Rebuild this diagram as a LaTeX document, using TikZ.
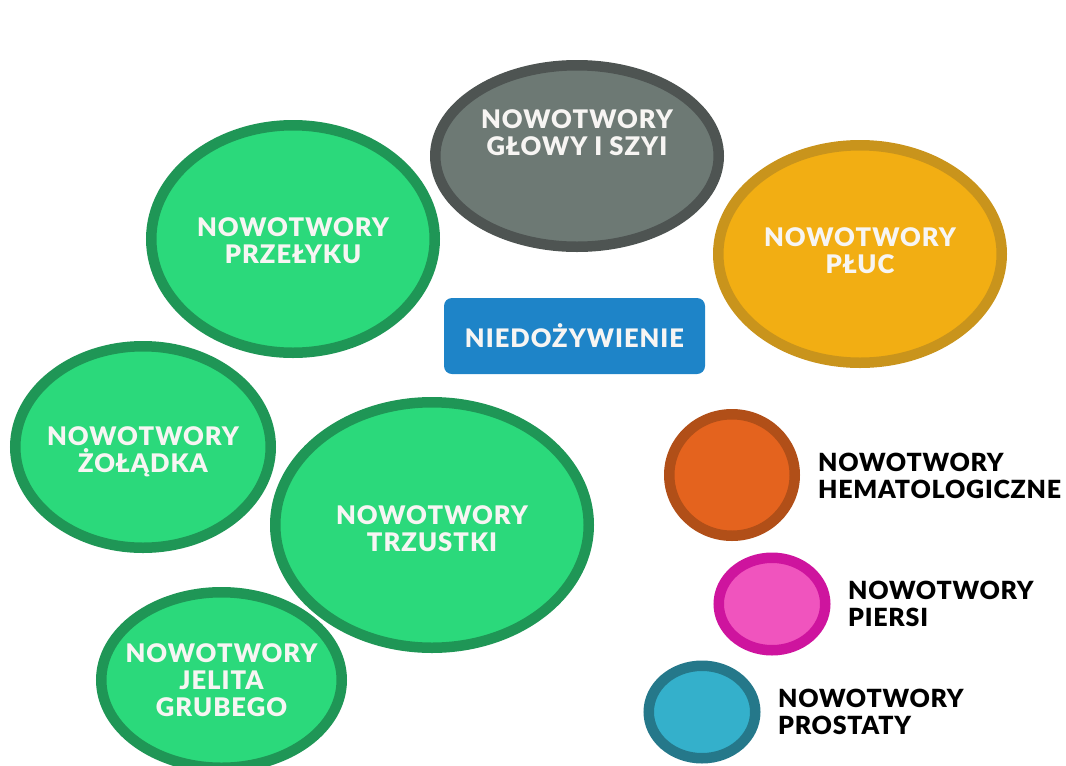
\documentclass[tikz,border=0pt]{standalone}
\usepackage{fontspec}
\setmainfont{Lato}[UprightFont=* Black, LetterSpace=4]
\newfontfamily\extfont{Lato}[UprightFont=* Black, LetterSpace=3]
\usetikzlibrary{shapes.geometric}
\definecolor{greyfill}{HTML}{6D7974}
\definecolor{greyline}{HTML}{4E5452}
\definecolor{yelfill}{HTML}{F2AE13}
\definecolor{yelline}{HTML}{C9941C}
\definecolor{grnfill}{HTML}{2BD97B}
\definecolor{grnline}{HTML}{1F9656}
\definecolor{boxblue}{HTML}{1E84C8}
\definecolor{orfill}{HTML}{E4631E}
\definecolor{orline}{HTML}{B14F18}
\definecolor{pkfill}{HTML}{F054BE}
\definecolor{pkline}{HTML}{CE149E}
\definecolor{cyfill}{HTML}{34B0CB}
\definecolor{cyline}{HTML}{25788A}
\definecolor{txtwhite}{HTML}{F7F5F3}
\tikzset{
  blob/.style={ellipse, line width=10.5pt, inner sep=0pt},
  blobtxt/.style={text=txtwhite, align=center, inner sep=0pt,
    font=\fontsize{25.6}{27}\selectfont},
  ext/.style={anchor=west, align=left, text=black, inner sep=0pt,
    font=\extfont\fontsize{25}{27}\selectfont},
}
\begin{document}
\begin{tikzpicture}[x=1pt,y=-1pt]
\useasboundingbox (0,0) rectangle (1066,766);
% grey
\node[blob, draw=greyline, fill=greyfill, minimum width=283.5pt, minimum height=181.5pt,
  label={[blobtxt, yshift=23pt]center:NOWOTWORY\\GŁOWY I SZYI}] (glowa) at (577,156) {};
% yellow
\node[blob, draw=yelline, fill=yelfill, minimum width=283.5pt, minimum height=217.5pt,
  label={[blobtxt, yshift=3pt]center:NOWOTWORY\\PŁUC}] (pluc) at (860,254) {};
% greens
\node[blob, draw=grnline, fill=grnfill, minimum width=283.5pt, minimum height=227.5pt,
  label={[blobtxt, yshift=-2pt]center:NOWOTWORY\\PRZEŁYKU}] (przelyk) at (293,239) {};
\node[blob, draw=grnline, fill=grnfill, minimum width=255.5pt, minimum height=201.5pt,
  label={[blobtxt, yshift=-5pt]center:NOWOTWORY\\ŻOŁĄDKA}] (zoladek) at (143,447) {};
\node[blob, draw=grnline, fill=grnfill, minimum width=313.5pt, minimum height=245.5pt,
  label={[blobtxt, yshift=-4pt]center:NOWOTWORY\\TRZUSTKI}] (trzustka) at (432,525) {};
\node[blob, draw=grnline, fill=grnfill, minimum width=240.5pt, minimum height=175.5pt,
  label={[blobtxt]center:NOWOTWORY\\JELITA\\GRUBEGO}] (jelito) at (221.5,680) {};
% central box
\node[fill=boxblue, rounded corners=8pt, minimum width=261pt, minimum height=76pt, inner sep=0pt,
  text=txtwhite, font=\fontsize{25.5}{26}\selectfont] (niedoz) at (574.5,336) {NIEDOŻYWIENIE};
% small circles
\node[blob, draw=orline, fill=orfill, minimum width=125.5pt, minimum height=121.5pt] (hema) at (732,475) {};
\node[blob, draw=pkline, fill=pkfill, minimum width=106.5pt, minimum height=92.5pt] (piers) at (772,604) {};
\node[blob, draw=cyline, fill=cyfill, minimum width=106.5pt, minimum height=92.5pt] (prost) at (702,712) {};
% labels
\node[ext] (hemat) at (818,476) {NOWOTWORY\\HEMATOLOGICZNE};
\node[ext] (piersit) at (848,604) {NOWOTWORY\\PIERSI};
\node[ext] (prostt) at (778,712) {NOWOTWORY\\PROSTATY};
\end{tikzpicture}
\end{document}
